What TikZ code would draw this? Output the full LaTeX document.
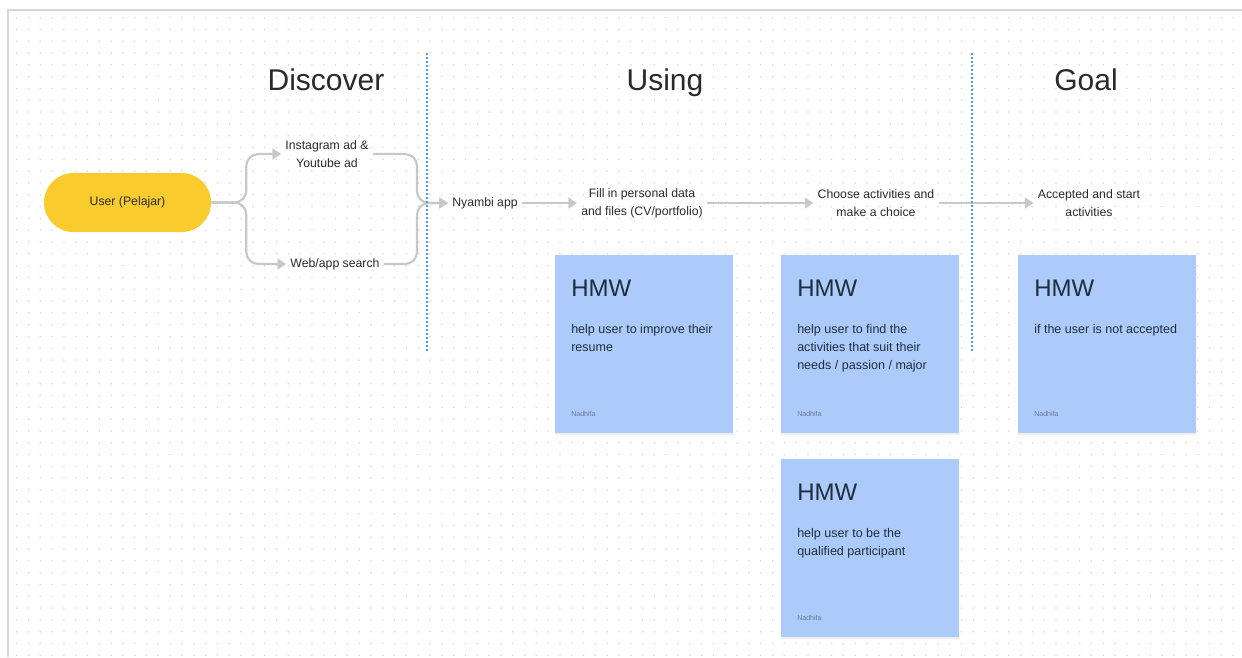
\documentclass[tikz,border=0pt]{standalone}
\usepackage{fontspec}
\setmainfont{Liberation Sans}
\usetikzlibrary{arrows.meta,shadows}
\definecolor{framec}{HTML}{D5D8DE}
\definecolor{dotc}{HTML}{D6D6D6}
\definecolor{pillc}{HTML}{FACB2C}
\definecolor{flowc}{HTML}{C8C8C8}
\definecolor{sepc}{HTML}{5B97E0}
\definecolor{stickyc}{HTML}{ADCBFA}
\definecolor{inkc}{HTML}{2A2A2A}
\definecolor{navyc}{HTML}{1F2D3D}
\definecolor{sigc}{HTML}{6A7A92}
\begin{document}
\begin{tikzpicture}[x=0.75pt,y=-0.75pt,
  lbl/.style={font=\fontsize{9.2}{13.5}\selectfont, text=inkc, align=center, inner sep=3pt},
  titlec/.style={font=\fontsize{22.5}{26}\selectfont, text=inkc, anchor=base},
  flowarrow/.style={draw=flowc, line width=1.6pt, -{Triangle[length=6.5pt,width=8pt]}, rounded corners=9pt},
  sepline/.style={draw=sepc, line width=0.9pt, dash pattern=on 1.5pt off 1.5pt},
  pillbox/.style={fill=pillc, rounded corners=22pt, minimum width=125.25pt, minimum height=44.25pt, inner sep=0pt, font=\fontsize{9.2}{11}\selectfont, text=inkc},
  stickybox/.style={fill=stickyc, minimum width=133.5pt, minimum height=133.5pt, inner sep=0pt,
    drop shadow={opacity=0.12, shadow xshift=0pt, shadow yshift=-1.5pt}},
  hmw/.style={font=\fontsize{18}{20}\selectfont, text=navyc, anchor=base west, inner sep=0pt},
  body/.style={font=\fontsize{9.4}{13.5}\selectfont, text=navyc, align=left, anchor=north west, inner sep=0pt},
  sig/.style={font=\fontsize{5.3}{6}\selectfont, text=sigc, anchor=base west, inner sep=0pt}
]
\useasboundingbox (0,0) rectangle (1242,657);
\fill[white] (0,0) rectangle (1242,657);
% dot grid
\foreach \i in {0,...,103}{
  \foreach \j in {0,...,54}{
    \fill[dotc] (16.7+\i*11.81, 17.6+\j*11.81) circle (0.65pt);
  }
}
% frame
\draw[framec, line width=1.8pt] (8,657) -- (8,10) -- (1242,10);

% titles
\node[titlec] (tdisc) at (326,90) {Discover};
\node[titlec] (tusing) at (665,90) {Using};
\node[titlec] (tgoal) at (1086,90) {Goal};

% flow nodes
\node[pillbox] (user) at (127.5,202.5) {User (Pelajar)};
\node[lbl] (insta) at (327,154) {Instagram ad \&\\Youtube ad};
\node[lbl] (web) at (335,264) {Web/app search};
\node[lbl] (nyambi) at (485,203) {Nyambi app};
\node[lbl] (fill) at (642,203) {Fill in personal data\\and files (CV/portfolio)};
\node[lbl] (choose) at (876,203) {Choose activities and\\make a choice};
\node[lbl] (accept) at (1089,203) {Accepted and start\\activities};
\coordinate (merge) at (417,203);

% connectors
\draw[flowarrow] (user.east) -- ++(35,0) |- (insta.west);
\draw[flowarrow] (user.east) -- ++(35,0) |- (web.west);
\draw[flowarrow] (insta.east) -| (merge) -- (nyambi.west);
\draw[flowarrow] (web.east) -| (merge) -- (nyambi.west);
\draw[flowarrow] (nyambi) -- (fill);
\draw[flowarrow] (fill) -- (choose);
\draw[flowarrow] (choose) -- (accept);

% separators
\draw[sepline] (427,53) -- (427,352);
\draw[sepline] (972,53) -- (972,352);

% stickies
\node[stickybox] (s1) at (644,344) {};
\node[stickybox] (s2) at (870,344) {};
\node[stickybox] (s3) at (1107,344) {};
\node[stickybox] (s4) at (870,548) {};

\node[hmw] at (571,296) {HMW};
\node[body] at (571,324.5) {help user to improve their\\resume};
\node[sig] at (571,416) {Nadhifa};

\node[hmw] at (797,296) {HMW};
\node[body] at (797,324.5) {help user to find the\\activities that suit their\\needs / passion / major};
\node[sig] at (797,416) {Nadhifa};

\node[hmw] at (1034,296) {HMW};
\node[body] at (1034,324.5) {if the user is not accepted};
\node[sig] at (1034,416) {Nadhifa};

\node[hmw] at (797,500) {HMW};
\node[body] at (797,528.5) {help user to be the\\qualified participant};
\node[sig] at (797,620) {Nadhifa};
\end{tikzpicture}
\end{document}
